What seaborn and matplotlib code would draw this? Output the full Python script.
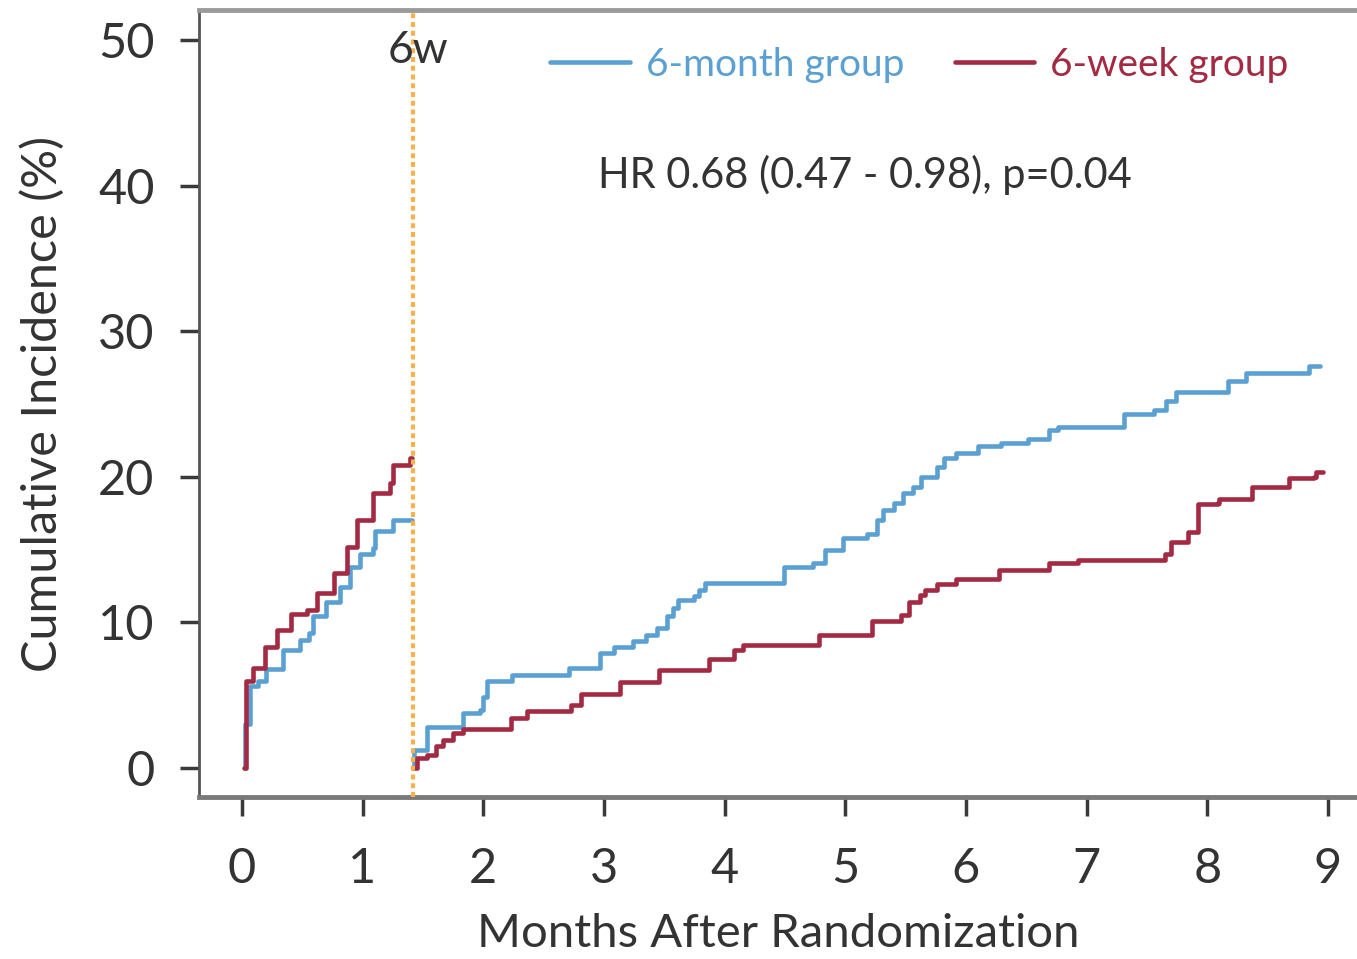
import numpy as np
import pandas as pd
import matplotlib
matplotlib.use("Agg")
import matplotlib.pyplot as plt
import seaborn as sns
from matplotlib.lines import Line2D

# ---- data (months, cumulative incidence %) ----
blue_early_t = [0.025, 0.025, 0.066, 0.135, 0.20, 0.34, 0.48, 0.56, 0.59, 0.70, 0.81, 0.895, 0.98, 1.09, 1.10, 1.25, 1.41]
blue_early_y = [0.0, 3.0, 5.6, 6.0, 6.8, 8.1, 8.8, 9.25, 10.4, 11.4, 12.45, 13.8, 14.7, 15.1, 16.3, 17.0, 17.0]
red_early_t = [0.02, 0.03, 0.094, 0.19, 0.29, 0.41, 0.54, 0.62, 0.76, 0.87, 0.95, 1.09, 1.23, 1.25, 1.39, 1.41]
red_early_y = [0.0, 6.0, 6.85, 8.3, 9.5, 10.6, 10.85, 12.0, 13.4, 15.2, 17.0, 18.9, 19.55, 20.8, 21.3, 21.3]

blue_late_t = [1.42, 1.43, 1.53, 1.83, 1.97, 2.00, 2.03, 2.24, 2.71, 2.97, 3.08, 3.24, 3.35, 3.44, 3.52, 3.57, 3.61,
               3.75, 3.79, 3.84, 4.49, 4.73, 4.83, 4.98, 5.18, 5.26, 5.31, 5.40, 5.48, 5.56, 5.63, 5.76, 5.82,
               5.92, 6.10, 6.29, 6.51, 6.69, 6.76, 7.31, 7.56, 7.66, 7.74, 8.17, 8.32, 8.84, 8.93]
blue_late_y = [0.0, 1.2, 2.8, 3.75, 4.0, 4.9, 6.0, 6.4, 6.85, 7.9, 8.3, 8.7, 9.1, 9.6, 10.4, 11.0, 11.5,
               11.8, 12.2, 12.7, 13.8, 14.05, 14.97, 15.8, 16.1, 17.0, 17.7, 18.2, 18.9, 19.3, 20.0, 20.7, 21.3,
               21.6, 22.1, 22.3, 22.6, 23.2, 23.4, 24.3, 24.6, 25.2, 25.85, 26.6, 27.1, 27.6, 27.6]
red_late_t = [1.42, 1.45, 1.53, 1.61, 1.67, 1.75, 1.83, 2.23, 2.36, 2.73, 2.81, 3.13, 3.46, 3.87, 4.08, 4.15,
              4.78, 5.22, 5.46, 5.53, 5.62, 5.66, 5.76, 5.92, 6.27, 6.69, 6.93, 7.65, 7.70, 7.84, 7.92, 8.09,
              8.10, 8.37, 8.68, 8.88, 8.90, 8.96]
red_late_y = [0.0, 0.65, 0.9, 1.5, 1.9, 2.4, 2.7, 3.4, 3.9, 4.3, 5.1, 5.9, 6.7, 7.5, 8.1, 8.45,
              9.1, 10.1, 10.5, 11.4, 11.9, 12.2, 12.6, 13.0, 13.6, 14.05, 14.3, 14.7, 15.5, 16.2, 18.1, 18.2,
              18.5, 19.3, 19.9, 20.0, 20.35, 20.35]

groups = ["6-month group", "6-week group"]
x_ticks = [0, 1, 2, 3, 4, 5, 6, 7, 8, 9]
y_ticks = [0, 10, 20, 30, 40, 50]
six_week_month = 1.42
hr_text = "HR 0.68 (0.47 - 0.98), p=0.04"

# ---- build long table ----
rows = []
for g, seg, ts, ys in [(groups[0], "early", blue_early_t, blue_early_y),
                       (groups[0], "late", blue_late_t, blue_late_y),
                       (groups[1], "early", red_early_t, red_early_y),
                       (groups[1], "late", red_late_t, red_late_y)]:
    for t, y in zip(ts, ys):
        rows.append({"group": g, "segment": g + seg, "t": t, "y": y})
df = pd.DataFrame(rows)

blue = "#5aa0d2"
red = "#a32a42"
palette = {groups[0]: blue, groups[1]: red}

sns.set_theme(style="white")
plt.rcParams["font.family"] = ["Lato", "DejaVu Sans"]

fig = plt.figure(figsize=(13.57, 9.59), dpi=100)
ax = fig.add_axes([0.1466, 0.1689, 0.8534, 0.8207])

sns.lineplot(data=df, x="t", y="y", hue="group", units="segment", estimator=None,
             palette=palette, drawstyle="steps-post", linewidth=3.3, ax=ax, legend=False,
             sort=True)

ax.axvline(six_week_month, color="#f5b24e", linewidth=3.0, linestyle=(0, (1.2, 0.9)), zorder=3)

ax.set_xlim(-0.356, 9.24)
ax.set_ylim(-2.0, 52.06)
ax.set_xticks(x_ticks)
ax.set_yticks(y_ticks)
ax.tick_params(axis="both", labelsize=35, colors="#3a3a3a", length=14, width=2.5,
               direction="out", bottom=True, left=True)
ax.tick_params(axis="x", pad=22)
ax.tick_params(axis="y", pad=18)
for lab in ax.get_xticklabels() + ax.get_yticklabels():
    lab.set_color("#333333")

ax.set_xlabel("Months After Randomization", fontsize=34, color="#333333", labelpad=16)
ax.set_ylabel("Cumulative Incidence (%)", fontsize=35, color="#333333", labelpad=24)

ax.spines["right"].set_visible(False)
ax.spines["top"].set_visible(True)
ax.spines["left"].set_visible(True)
ax.spines["bottom"].set_visible(True)
ax.spines["left"].set_color("#555555")
ax.spines["left"].set_linewidth(2.0)
ax.spines["bottom"].set_color("#7a7a7a")
ax.spines["bottom"].set_linewidth(3.5)
ax.spines["top"].set_color("#9a9a9a")
ax.spines["top"].set_linewidth(3.5)

ax.text(1.46, 49.3, "6w", fontsize=32, color="#333333", ha="center", va="center")
ax.text(5.16, 40.7, hr_text, fontsize=30, color="#333333", ha="center", va="center")

handles = [Line2D([0], [0], color=palette[g], linewidth=3.3) for g in groups]
leg = ax.legend(handles, groups, ncol=2, frameon=False, fontsize=28,
                loc="center", bbox_to_anchor=(0.622, 0.930),
                handlelength=2.05, handletextpad=0.4, columnspacing=1.3,
                labelcolor="linecolor", borderpad=0.2)

fig.savefig("out.png", dpi=100)
